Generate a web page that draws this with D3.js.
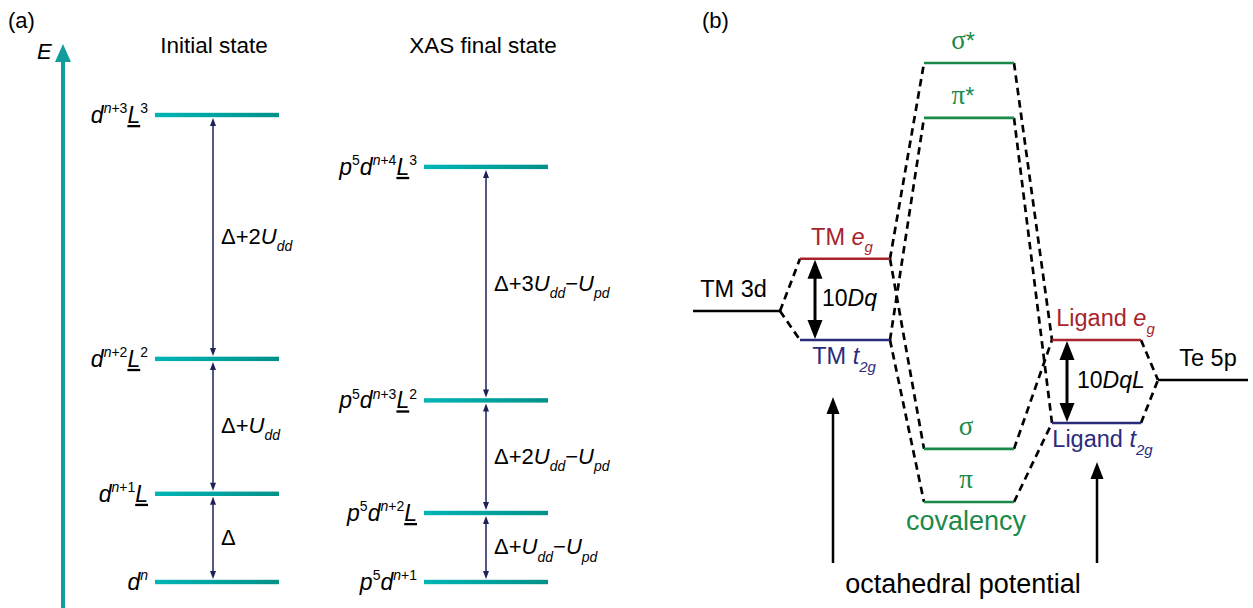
<!DOCTYPE html>
<html><head><meta charset="utf-8">
<script src="https://cdn.jsdelivr.net/npm/d3@7"></script>
<style>body{margin:0;background:#fff}svg{display:block}</style>
</head><body><svg id="c" width="1253" height="608"></svg>
<script>
// ================= DATA =================
const panelTitles = ["(a)", "(b)"];
const columnTitles = ["Initial state", "XAS final state"];
const axisLabel = "E";

// Panel (a): initial-state configurations (energies in arbitrary units)
const initialLabels = [
  [["d","i"],["n","sup i"]],
  [["d","i"],["n","sup i"],["+1","sup"],["L","i u"]],
  [["d","i"],["n","sup i"],["+2","sup"],["L","i u"],["2","sup"]],
  [["d","i"],["n","sup i"],["+3","sup"],["L","i u"],["3","sup"]]
];
const initialEnergies = [0, 1.7, 4.3, 9.0];
const initialGapLabels = [
  [["Δ",""]],
  [["Δ+",""],["U","i"],["dd","sub i"]],
  [["Δ+2",""],["U","i"],["dd","sub i"]]
];

// Panel (a): XAS final-state configurations
const finalLabels = [
  [["p","i"],["5","sup"],["d","i"],["n","sup i"],["+1","sup"]],
  [["p","i"],["5","sup"],["d","i"],["n","sup i"],["+2","sup"],["L","i u"]],
  [["p","i"],["5","sup"],["d","i"],["n","sup i"],["+3","sup"],["L","i u"],["2","sup"]],
  [["p","i"],["5","sup"],["d","i"],["n","sup i"],["+4","sup"],["L","i u"],["3","sup"]]
];
const finalEnergies = [0, 1.33, 3.5, 8.0];
const finalGapLabels = [
  [["Δ+",""],["U","i"],["dd","sub i"],["−",""],["U","i"],["pd","sub i"]],
  [["Δ+2",""],["U","i"],["dd","sub i"],["−",""],["U","i"],["pd","sub i"]],
  [["Δ+3",""],["U","i"],["dd","sub i"],["−",""],["U","i"],["pd","sub i"]]
];

// Panel (b): molecular-orbital levels
const moIds      = ["TM3d","TMeg","TMt2g","sigmaStar","piStar","sigma","pi","LigEg","LigT2g","Te5p"];
const moColumns  = ["tm3d","tmsplit","tmsplit","mo","mo","mo","mo","ligsplit","ligsplit","te"];
const moEnergies = [4.35, 5.54, 3.69, 10.0, 8.75, 1.21, 0.0, 3.69, 1.80, 2.78];
const moKinds    = ["atom","eg","t2g","mo","mo","mo","mo","eg","t2g","atom"];
const moLabels   = [
  [["TM 3d",""]],
  [["TM ",""],["e","i"],["g","sub i"]],
  [["TM ",""],["t","i"],["2g","sub i"]],
  [["σ","serif"],["*",""]],
  [["π","serif"],["*",""]],
  [["σ","serif"]],
  [["π","serif"]],
  [["Ligand ",""],["e","i"],["g","sub i"]],
  [["Ligand ",""],["t","i"],["2g","sub i"]],
  [["Te 5p",""]]
];
const moLabelSide = ["above","above","below","above","above","above","above","above","below","above"];
const moConnections = [
  ["TM3d","TMeg"],["TM3d","TMt2g"],
  ["TMeg","sigmaStar"],["TMeg","sigma"],["TMt2g","piStar"],["TMt2g","pi"],
  ["sigmaStar","LigEg"],["sigma","LigEg"],["piStar","LigT2g"],["pi","LigT2g"],
  ["LigEg","Te5p"],["LigT2g","Te5p"]
];
const splittingLabels = [
  [["10",""],["Dq","i"]],
  [["10",""],["DqL","i"]]
];
const splittingPairs = [["TMeg","TMt2g"],["LigEg","LigT2g"]];
const potentialArrowBase = -1.39;
const potentialArrowTips = [2.39, 0.91];
const covalencyLabel = "covalency";
const potentialLabel = "octahedral potential";

// ================= LAYOUT / STYLE =================
const FONT = "'Liberation Sans', Arial, Helvetica, sans-serif";
const SERIF = "'Liberation Serif', 'Times New Roman', serif";
const TEAL = "#139c9c", NAVY = "#1c2257", GREEN = "#1b8a49", RED = "#a8242b", BLUE = "#2b2b7d";
const kindColor = {atom:"#000", eg:RED, t2g:BLUE, mo:GREEN};
const labelDx = {TM3d:-3, TMeg:-3, TMt2g:-1, sigmaStar:-6, piStar:-6, sigma:-3, pi:-3, LigEg:9, LigT2g:6, Te5p:5};

const svg = d3.select("#c").attr("font-family", FONT);
const defs = svg.append("defs");
const grad = defs.append("linearGradient").attr("id","lvl")
  .attr("x1",0).attr("x2",1).attr("y1",0).attr("y2",0);
grad.append("stop").attr("offset",0).attr("stop-color","#00b5b6");
grad.append("stop").attr("offset",1).attr("stop-color","#009189");

function rich(textSel, segs, size) {
  let cur = 0;
  segs.forEach(([t, s]) => {
    const f = s.split(" ");
    const sup = f.includes("sup"), sub = f.includes("sub");
    const target = sup ? -0.42*size : sub ? 0.32*size : 0;
    const ts = textSel.append("tspan").text(t);
    if (target !== cur) ts.attr("dy", target - cur);
    cur = target;
    if (sup || sub) ts.attr("font-size", Math.round(size*0.62));
    if (f.includes("i")) ts.attr("font-style","italic");
    if (f.includes("u")) ts.attr("text-decoration","underline");
    if (f.includes("serif")) ts.attr("font-family", SERIF).attr("font-size", size*1.15);
  });
  return textSel;
}

function arrow(g, x, yTop, yBot, st) {
  const y1 = st.headTop ? yTop + st.len*0.7 : yTop;
  const y2 = st.headBot ? yBot - st.len*0.7 : yBot;
  g.append("line").attr("x1",x).attr("x2",x).attr("y1",y1).attr("y2",y2)
    .attr("stroke",st.color).attr("stroke-width",st.width);
  if (st.headTop) g.append("path")
    .attr("d",`M${x},${yTop}L${x+st.hw},${yTop+st.len}L${x-st.hw},${yTop+st.len}Z`).attr("fill",st.color);
  if (st.headBot) g.append("path")
    .attr("d",`M${x},${yBot}L${x+st.hw},${yBot-st.len}L${x-st.hw},${yBot-st.len}Z`).attr("fill",st.color);
}

// ================= PANEL (a) =================
const yA = d3.scaleLinear().domain([0, 9]).range([582, 115]);
const colA = [
  {x0:155, x1:279, ax:213, title:columnTitles[0], energies:initialEnergies, labels:initialLabels, gaps:initialGapLabels},
  {x0:424, x1:548, ax:486, title:columnTitles[1], energies:finalEnergies, labels:finalLabels, gaps:finalGapLabels}
];
const gA = svg.append("g");
gA.append("text").attr("x",8).attr("y",28).attr("font-size",22).text(panelTitles[0]);
// energy axis
const axX = 63;
arrow(gA, axX, 44, 612, {color:TEAL, width:4, len:18, hw:8, headTop:true, headBot:false});
gA.append("text").attr("x",37).attr("y",59).attr("font-size",22).attr("font-style","italic").text(axisLabel);

colA.forEach(c => {
  const g = gA.append("g");
  g.append("text").attr("x",(c.x0+c.x1)/2-3).attr("y",53).attr("text-anchor","middle")
    .attr("font-size",22.5).text(c.title);
  c.energies.forEach((e,i) => {
    g.append("rect").attr("x",c.x0).attr("y",yA(e)-2.2).attr("width",c.x1-c.x0).attr("height",4.4)
      .attr("fill","url(#lvl)");
    rich(g.append("text").attr("x",c.x0-7).attr("y",yA(e)+8).attr("text-anchor","end").attr("font-size",23),
      c.labels[i], 23);
  });
  d3.pairs(c.energies).forEach(([lo,hi],i) => {
    arrow(g, c.ax, yA(hi)+3, yA(lo)-3, {color:NAVY, width:1.5, len:8, hw:3, headTop:true, headBot:true});
    rich(g.append("text").attr("x",c.ax+8).attr("y",(yA(hi)+yA(lo))/2+7).attr("font-size",22),
      c.gaps[i], 22);
  });
});

// ================= PANEL (b) =================
const yB = d3.scaleLinear().domain([0, 10]).range([502, 63]);
const colB = {tm3d:[693,780], tmsplit:[800,890], mo:[924,1014], ligsplit:[1052,1141], te:[1158,1248]};
const gB = svg.append("g");
gB.append("text").attr("x",702).attr("y",28).attr("font-size",22).text(panelTitles[1]);

const lv = {};
moIds.forEach((id,i) => {
  const [x0,x1] = colB[moColumns[i]];
  lv[id] = {x0, x1, y: yB(moEnergies[i]), color: kindColor[moKinds[i]]};
});

// dashed correlation lines
gB.append("g").selectAll("line").data(moConnections).join("line")
  .attr("x1",d=>lv[d[0]].x1).attr("y1",d=>lv[d[0]].y)
  .attr("x2",d=>lv[d[1]].x0).attr("y2",d=>lv[d[1]].y)
  .attr("stroke","#000").attr("stroke-width",2.7).attr("stroke-dasharray","7.5 5");

// levels
gB.append("g").selectAll("line").data(moIds).join("line")
  .attr("x1",d=>lv[d].x0).attr("x2",d=>lv[d].x1).attr("y1",d=>lv[d].y).attr("y2",d=>lv[d].y)
  .attr("stroke",d=>lv[d].color).attr("stroke-width",2.6);

// level labels
moIds.forEach((id,i) => {
  const L = lv[id];
  const y = moLabelSide[i] === "above" ? L.y - 14 : L.y + 24;
  rich(gB.append("text").attr("x",(L.x0+L.x1)/2 + labelDx[id]).attr("y",y).attr("text-anchor","middle")
    .attr("font-size",23.5).attr("fill",L.color), moLabels[i], 23.5);
});

// splitting arrows
splittingPairs.forEach(([a,b],i) => {
  const x = lv[a].x0 + 15;
  arrow(gB, x, lv[a].y+1, lv[b].y-1, {color:"#000", width:3, len:19, hw:7.5, headTop:true, headBot:true});
  rich(gB.append("text").attr("x",x+7+i*3).attr("y",(lv[a].y+lv[b].y)/2+7).attr("font-size",23),
    splittingLabels[i], 23);
});

// octahedral potential arrows
const potX = [colB.tmsplit[0]+33, colB.ligsplit[0]+45];
potentialArrowTips.forEach((t,i) => {
  arrow(gB, potX[i], yB(t), yB(potentialArrowBase), {color:"#000", width:2.5, len:17, hw:6.5, headTop:true, headBot:false});
});
gB.append("text").attr("x",(colB.mo[0]+colB.mo[1])/2-3).attr("y",yB(moEnergies[6])+28)
  .attr("text-anchor","middle").attr("font-size",27).attr("fill",GREEN).text(covalencyLabel);
gB.append("text").attr("x",(potX[0]+potX[1])/2-2).attr("y",593)
  .attr("text-anchor","middle").attr("font-size",27).text(potentialLabel);
</script></body></html>
